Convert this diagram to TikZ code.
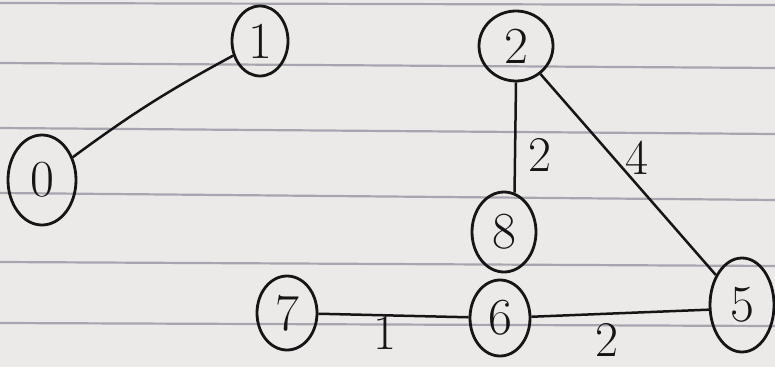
\documentclass[tikz,border=0pt]{standalone}
\usetikzlibrary{shapes.geometric}
\definecolor{paper}{HTML}{ECE9E9}
\definecolor{rule}{HTML}{A7A6B0}
\definecolor{ink}{HTML}{151515}
\begin{document}
\begin{tikzpicture}[x=1pt,y=-1pt,
  vert/.style={ellipse,draw=ink,line width=2.8pt,inner sep=0pt,font=\fontsize{52}{52}\selectfont,text=ink},
  edge/.style={draw=ink,line width=2.5pt},
  wlabel/.style={inner sep=0pt,font=\fontsize{50}{50}\selectfont,text=ink},
  ruling/.style={draw=rule,line width=2.2pt}]
\fill[paper] (0,0) rectangle (775,367);
\useasboundingbox (0,0) rectangle (775,367);
% ruled lines
\draw[ruling] (0,3) -- (775,5);
\draw[ruling] (0,63) -- (775,68);
\draw[ruling] (0,128) -- (775,134);
\draw[ruling] (0,193) -- (775,200);
\draw[ruling] (0,262) -- (775,266);
\draw[ruling] (0,323) -- (775,326);
% vertices
\node[vert,minimum width=68pt,minimum height=90pt] (n0) at (42,180) {0};
\node[vert,minimum width=56pt,minimum height=70pt] (n1) at (260,41) {1};
\node[vert,minimum width=74pt,minimum height=70pt] (n2) at (516,46) {2};
\node[vert,minimum width=64pt,minimum height=80pt] (n8) at (504,232) {8};
\node[vert,minimum width=60pt,minimum height=74pt] (n7) at (287,313) {7};
\node[vert,minimum width=60pt,minimum height=76pt] (n6) at (500,318) {6};
\node[vert,minimum width=64pt,minimum height=94pt] (n5) at (742,305) {5};
% edges
\draw[edge] (n0) to[bend left=4] (n1);
\draw[edge] (n2.south) -- (n8.75);
\draw[edge] (n2) -- (n5);
\draw[edge] (n7) -- (n6);
\draw[edge] (n6) -- (n5.188);
% weights
\node[wlabel] (w28) at (540,155) {2};
\node[wlabel] (w25) at (637,158) {4};
\node[wlabel] (w76) at (385,333) {1};
\node[wlabel] (w65) at (607,340) {2};
\end{tikzpicture}
\end{document}
